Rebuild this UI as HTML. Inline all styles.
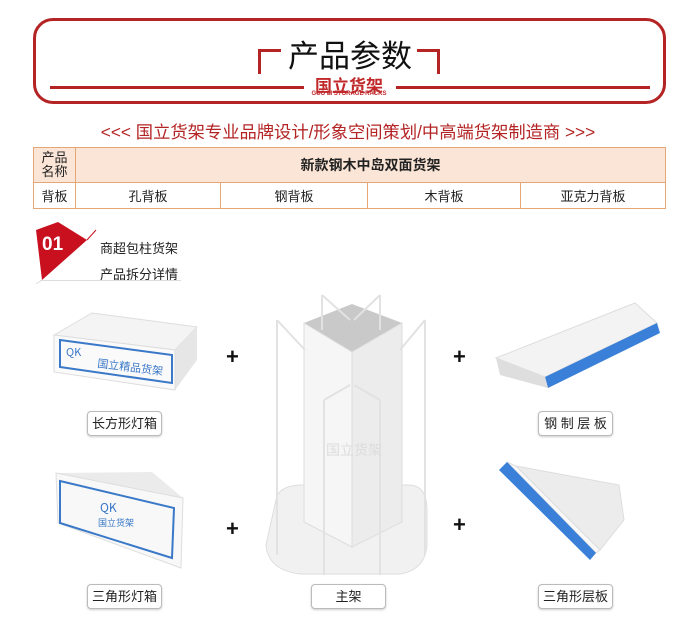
<!DOCTYPE html><html><head><meta charset="utf-8"><style>
body{margin:0;width:700px;height:628px;background:#fff;position:relative;overflow:hidden;font-family:"Liberation Sans","Noto Sans CJK SC",sans-serif}
.a{position:absolute;white-space:nowrap}
.lbl{position:absolute;width:73px;height:23px;border:1px solid #bbb;border-radius:4px;box-shadow:0 1px 2px #ccc;font-size:13px;line-height:23px;text-align:center;color:#222;background:#fff;white-space:nowrap}
.plus{position:absolute;font-size:22px;font-weight:bold;color:#111}
table{border-collapse:collapse;position:absolute;left:33px;top:147px;width:633px;table-layout:fixed}
td{border:1px solid #e4a878;font-size:13px;text-align:center;color:#222;padding:0;white-space:nowrap}
</style></head><body>
<div class="a" style="left:33px;top:18px;width:627px;height:80px;border:3px solid #b42424;border-radius:20px"></div>
<div class="a" style="left:258px;top:49px;width:20px;height:22px;border-left:3px solid #b42424;border-top:3px solid #b42424"></div>
<div class="a" style="left:417px;top:49px;width:20px;height:22px;border-right:3px solid #b42424;border-top:3px solid #b42424"></div>
<div class="a" style="left:280px;top:31px;width:140px;text-align:center;font-size:31px;color:#111">产品参数</div>
<div class="a" style="left:50px;top:86px;width:254px;height:3px;background:#b42424"></div>
<div class="a" style="left:396px;top:86px;width:254px;height:3px;background:#b42424"></div>
<div class="a" style="left:309px;top:72px;width:80px;text-align:center;font-size:17px;font-weight:bold;color:#c0282a">国立货架</div>
<div class="a" style="left:309px;top:91px;width:80px;text-align:center;font-size:6px;font-weight:bold;color:#c0282a">GUO LI STORAGE RACKS</div>
<div class="a" style="left:0;top:118px;width:696px;text-align:center;font-size:17.3px;color:#b42424">&lt;&lt;&lt; 国立货架专业品牌设计/形象空间策划/中高端货架制造商 &gt;&gt;&gt;</div>
<table><colgroup><col style="width:42px"><col style="width:145px"><col style="width:147px"><col style="width:153px"><col></colgroup>
<tr style="height:35px;background:#fbe5d6"><td style="line-height:14px">产品<br>名称</td><td colspan="4" style="font-weight:bold;font-size:14px">新款钢木中岛双面货架</td></tr>
<tr style="height:26px"><td>背板</td><td>孔背板</td><td>钢背板</td><td>木背板</td><td>亚克力背板</td></tr></table>
<svg class="a" style="left:30px;top:218px" width="70" height="66"><polygon points="6,12 28,4 57,22 12,62" fill="#c8101e"/><line x1="57" y1="22" x2="66" y2="12" stroke="#c8101e"/><line x1="12" y1="62" x2="6" y2="66" stroke="#ddd"/></svg>
<div class="a" style="left:42px;top:234px;color:#fff;font-weight:bold;font-size:19px">01</div>
<div class="a" style="left:100px;top:238px;font-size:13px;color:#222">商超包柱货架</div>
<div class="a" style="left:100px;top:264px;font-size:13px;color:#222">产品拆分详情</div>
<div class="a" style="left:40px;top:280px;width:141px;height:1px;background:#ddd"></div>
<svg class="a" style="left:0;top:290px" width="700" height="338">
<!-- rect light box -->
<polygon points="54,45 92,23 197,37 175,60" fill="#f4f4f4" stroke="#ddd"/>
<polygon points="175,60 197,37 197,70 175,100" fill="#e6e6e6"/>
<polygon points="54,45 175,60 175,100 54,82" fill="#fafafa" stroke="#ddd"/>
<polygon points="60,50 172,65 172,93 60,77" fill="none" stroke="#3a78c8" stroke-width="2"/>
<text x="66" y="66" font-size="11" fill="#3a78c8" font-family="Noto Sans CJK SC">QK</text>
<text x="97" y="77" font-size="11" fill="#3a78c8" font-family="Noto Sans CJK SC" transform="rotate(7 97 77)">国立精品货架</text>
<!-- triangle light box -->
<polygon points="56,183 152,182 183,208" fill="#ebebeb"/>
<polygon points="56,183 183,208 181,278 58,233" fill="#f8f8f8" stroke="#ddd"/>
<polygon points="60,191 174,218 172,268 60,233" fill="none" stroke="#3a78c8" stroke-width="2"/>
<text x="100" y="222" font-size="12" fill="#3a78c8" font-family="Noto Sans CJK SC">QK</text>
<text x="98" y="236" font-size="9" fill="#3a78c8" font-family="Noto Sans CJK SC">国立货架</text>
<!-- main rack -->
<path d="M276,210 Q278,196 300,195 L410,195 Q427,196 427,220 L427,255 Q425,280 400,284 L300,284 Q268,280 266,255 Z" fill="#f1f1f1" stroke="#ddd"/>
<polygon points="304,33 352,14 402,33 352,62" fill="#c9c9c9"/>
<polygon points="304,33 352,62 352,257 304,232" fill="#f6f6f6" stroke="#ddd"/>
<polygon points="352,62 402,33 402,232 352,257" fill="#ececec" stroke="#ddd"/>
<g stroke="#e2e2e2" stroke-width="2" fill="none"><line x1="277" y1="30" x2="277" y2="265"/><line x1="425" y1="30" x2="425" y2="265"/><line x1="322" y1="5" x2="322" y2="40"/><line x1="380" y1="5" x2="380" y2="40"/><line x1="324" y1="110" x2="324" y2="285"/><line x1="380" y1="110" x2="380" y2="285"/><line x1="277" y1="30" x2="305" y2="60"/><line x1="425" y1="30" x2="400" y2="60"/><line x1="322" y1="5" x2="350" y2="30"/><line x1="380" y1="5" x2="354" y2="30"/><line x1="324" y1="110" x2="350" y2="95"/><line x1="380" y1="110" x2="354" y2="95"/></g>
<text x="326" y="165" font-size="14" fill="#dcdcdc" font-family="Noto Sans CJK SC">国立货架</text>
<!-- steel shelf -->
<polygon points="496,68 635,13 657,33 545,87" fill="#f3f3f3" stroke="#ddd"/>
<polygon points="545,87 657,33 660,43 548,98" fill="#3a80d8"/>
<polygon points="496,68 545,87 548,98 500,85" fill="#dedede"/>
<!-- triangle shelf -->
<polygon points="516,176 619,195 624,230 600,260" fill="#ececec" stroke="#ddd"/>
<polygon points="507,172 516,176 600,260 596,263" fill="#f8f8f8" stroke="#ddd"/>
<polygon points="499,180 507,172 596,263 590,270" fill="#3a80d8"/>
</svg>
<div class="plus" style="left:226px;top:344px">+</div>
<div class="plus" style="left:226px;top:516px">+</div>
<div class="plus" style="left:453px;top:344px">+</div>
<div class="plus" style="left:453px;top:512px">+</div>
<div class="lbl" style="left:87px;top:411px">长方形灯箱</div>
<div class="lbl" style="left:538px;top:411px">钢 制 层 板</div>
<div class="lbl" style="left:87px;top:584px">三角形灯箱</div>
<div class="lbl" style="left:311px;top:584px">主架</div>
<div class="lbl" style="left:538px;top:584px">三角形层板</div>
</body></html>
